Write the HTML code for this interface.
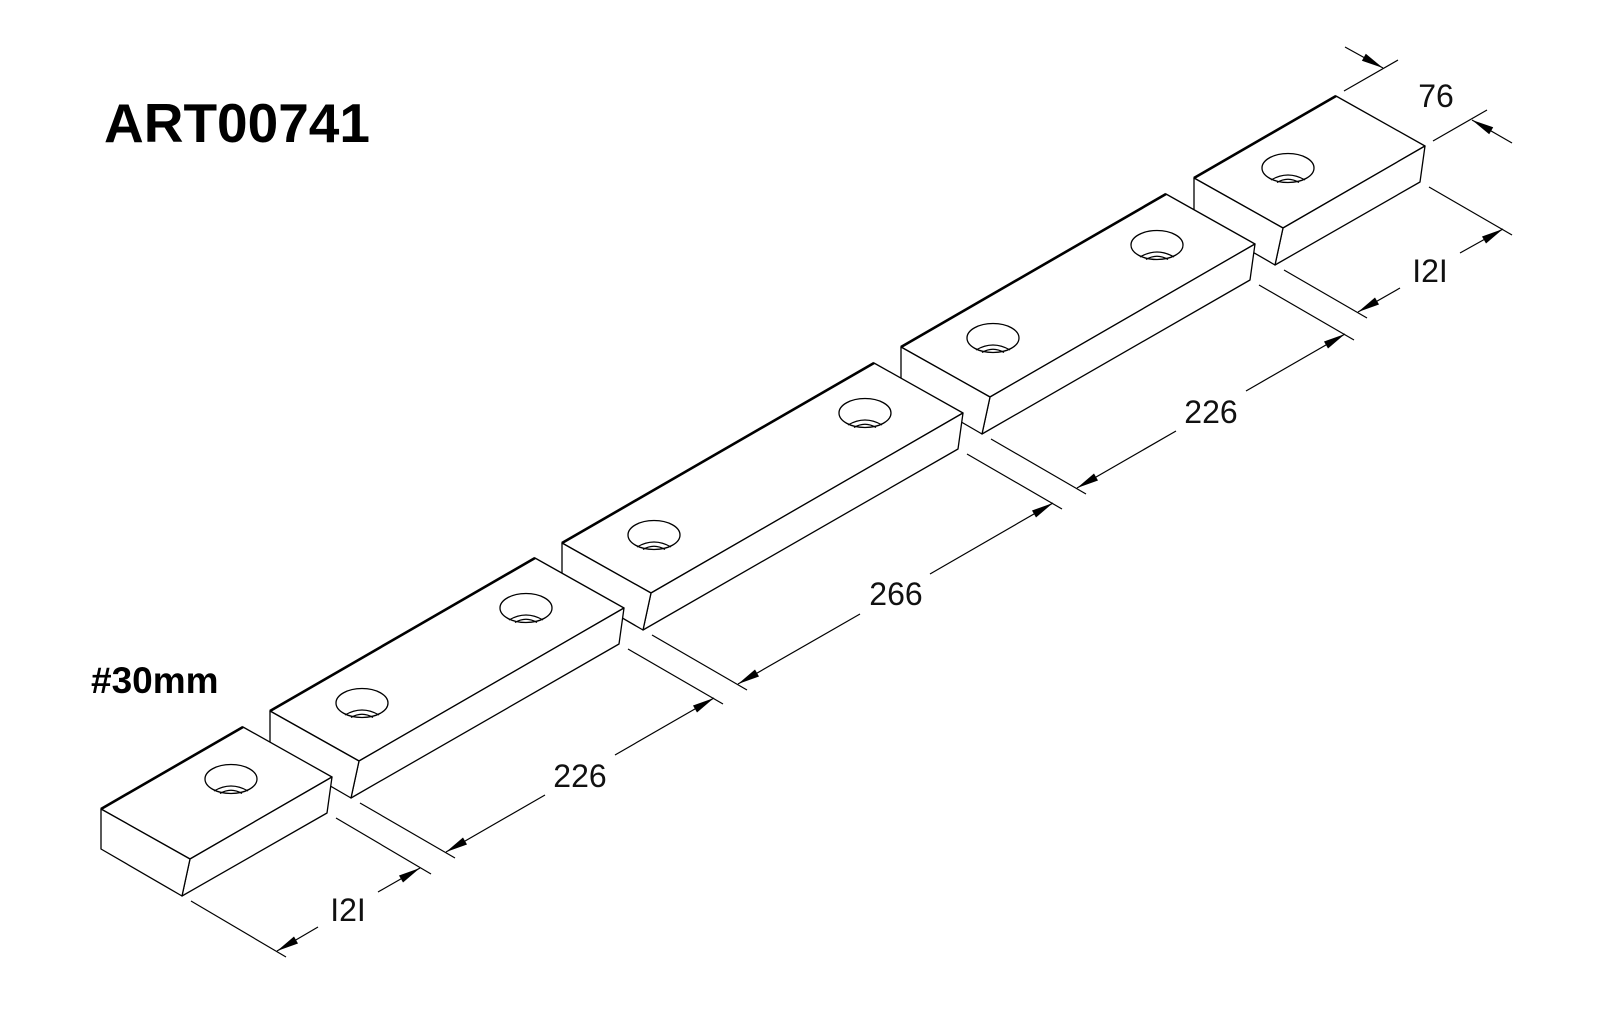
<!DOCTYPE html>
<html><head><meta charset="utf-8"><style>
html,body{margin:0;padding:0;background:#fff;}
svg{display:block;}
.t{font-family:"Liberation Sans Narrow","Liberation Sans",sans-serif;font-size:32px;fill:#111;text-anchor:middle;}
</style></head><body>
<svg width="1610" height="1036" viewBox="0 0 1610 1036" xmlns="http://www.w3.org/2000/svg">
<rect width="1610" height="1036" fill="#fff"/>
<text x="104" y="142" font-family="Liberation Sans,sans-serif" font-weight="bold" font-size="55" fill="#000">ART00741</text>
<text x="91" y="693" font-family="Liberation Sans,sans-serif" font-weight="bold" font-size="37" fill="#000">#30mm</text>

<g fill="#fff" stroke="#000" stroke-width="1.3" stroke-linejoin="round">
<polygon points="1283,228 1425,146 1336,96 1194,178"/>
<polygon points="1283,228 1425,146 1420,182 1275,265"/>
<polygon points="1194,178 1283,228 1275,265 1194,218"/>
<line x1="1194" y1="178" x2="1336" y2="96" stroke-width="2.6"/>
<polygon points="990,397 1255,244 1166,194 901,347"/>
<polygon points="990,397 1255,244 1250,280 982,434"/>
<polygon points="901,347 990,397 982,434 901,387"/>
<line x1="901" y1="347" x2="1166" y2="194" stroke-width="2.6"/>
<polygon points="651,593 963,413 874,363 562,543"/>
<polygon points="651,593 963,413 958,449 643,630"/>
<polygon points="562,543 651,593 643,630 562,583"/>
<line x1="562" y1="543" x2="874" y2="363" stroke-width="2.6"/>
<polygon points="359,761 624,608 535,558 270,711"/>
<polygon points="359,761 624,608 619,644 351,798"/>
<polygon points="270,711 359,761 351,798 270,751"/>
<line x1="270" y1="711" x2="535" y2="558" stroke-width="2.6"/>
<polygon points="190,859 332,777 243,727 101,809"/>
<polygon points="190,859 332,777 327,813 182,896"/>
<polygon points="101,809 190,859 182,896 101,849"/>
<line x1="101" y1="809" x2="243" y2="727" stroke-width="2.6"/>
</g>

<g fill="none" stroke="#000" stroke-width="1.3">
<g transform="translate(231,779)"><ellipse rx="26" ry="14.5"/><path d="M-17 12 Q0 2 17 12 M-11 14.5 Q0 8 11 14.5"/></g>
<g transform="translate(1288,168)"><ellipse rx="26" ry="14.5"/><path d="M-17 12 Q0 2 17 12 M-11 14.5 Q0 8 11 14.5"/></g>
<g transform="translate(362,703)"><ellipse rx="26" ry="14.5"/><path d="M-17 12 Q0 2 17 12 M-11 14.5 Q0 8 11 14.5"/></g>
<g transform="translate(526,608)"><ellipse rx="26" ry="14.5"/><path d="M-17 12 Q0 2 17 12 M-11 14.5 Q0 8 11 14.5"/></g>
<g transform="translate(654,535)"><ellipse rx="26" ry="14.5"/><path d="M-17 12 Q0 2 17 12 M-11 14.5 Q0 8 11 14.5"/></g>
<g transform="translate(865,413)"><ellipse rx="26" ry="14.5"/><path d="M-17 12 Q0 2 17 12 M-11 14.5 Q0 8 11 14.5"/></g>
<g transform="translate(993,338)"><ellipse rx="26" ry="14.5"/><path d="M-17 12 Q0 2 17 12 M-11 14.5 Q0 8 11 14.5"/></g>
<g transform="translate(1157,245)"><ellipse rx="26" ry="14.5"/><path d="M-17 12 Q0 2 17 12 M-11 14.5 Q0 8 11 14.5"/></g>
</g>

<g stroke="#000" stroke-width="1.2" fill="none">
<line x1="191" y1="901" x2="286" y2="957"/><line x1="336" y1="818" x2="431" y2="874"/>
<line x1="277" y1="951" x2="318" y2="927"/><line x1="378" y1="892" x2="420" y2="868"/>

<line x1="360" y1="803" x2="455" y2="858"/><line x1="628" y1="649" x2="723" y2="704"/>
<line x1="446" y1="852" x2="545" y2="795"/><line x1="615" y1="755" x2="714" y2="698"/>

<line x1="652" y1="635" x2="747" y2="690"/><line x1="967" y1="454" x2="1062" y2="509"/>
<line x1="738" y1="684" x2="860" y2="614"/><line x1="930" y1="574" x2="1053" y2="503"/>

<line x1="991" y1="439" x2="1086" y2="494"/><line x1="1259" y1="285" x2="1354" y2="340"/>
<line x1="1077" y1="488" x2="1176" y2="431"/><line x1="1246" y1="391" x2="1345" y2="334"/>

<line x1="1284" y1="270" x2="1367" y2="318"/><line x1="1429" y1="187" x2="1512" y2="235"/>
<line x1="1358" y1="312" x2="1400" y2="288"/><line x1="1460" y1="253" x2="1503" y2="229"/>

<line x1="1344" y1="91" x2="1398" y2="60"/><line x1="1433" y1="141" x2="1487" y2="110"/>
<line x1="1345" y1="47" x2="1383" y2="68"/><line x1="1472" y1="120" x2="1512" y2="143"/>
</g>
<g fill="#000">
<polygon points="277,951 298,943.5 294,936.5"/><polygon points="420,868 403,882.5 399,875.5"/>
<polygon points="446,852 467,844.5 463,837.5"/><polygon points="714,698 697,712.5 693,705.5"/>
<polygon points="738,684 759,676.5 755,669.5"/><polygon points="1053,503 1036,517.5 1032,510.5"/>
<polygon points="1077,488 1098,480.5 1094,473.5"/><polygon points="1345,334 1328,348.5 1324,341.5"/>
<polygon points="1358,312 1379,304.5 1375,297.5"/><polygon points="1503,229 1486,243.5 1482,236.5"/>
<polygon points="1383,68 1361.9,60.7 1365.8,53.7"/><polygon points="1472,120 1489.2,134.3 1493.2,127.3"/>
</g>
<text class="t" x="348" y="921">I2I</text>
<text class="t" x="580" y="787">226</text>
<text class="t" x="896" y="605">266</text>
<text class="t" x="1211" y="423">226</text>
<text class="t" x="1430" y="282">I2I</text>
<text class="t" x="1436" y="107">76</text>
</svg>
</body></html>
